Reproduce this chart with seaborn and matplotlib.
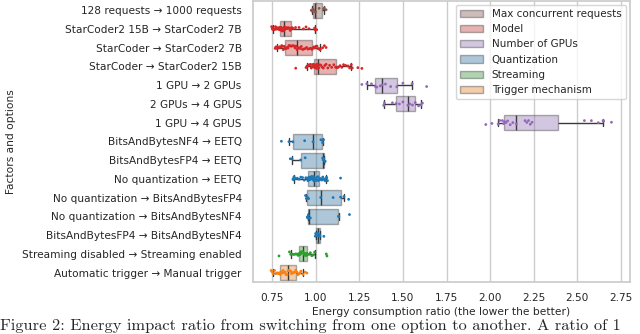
import matplotlib
matplotlib.use("Agg")
import matplotlib.pyplot as plt
import numpy as np
import pandas as pd
import seaborn as sns

# one row per comparison, top to bottom
comparisons = [
    "128 requests → 1000 requests",
    "StarCoder2 15B → StarCoder2 7B",
    "StarCoder → StarCoder2 7B",
    "StarCoder → StarCoder2 15B",
    "1 GPU → 2 GPUs",
    "2 GPUs → 4 GPUS",
    "1 GPU → 4 GPUS",
    "BitsAndBytesNF4 → EETQ",
    "BitsAndBytesFP4 → EETQ",
    "No quantization → EETQ",
    "No quantization → BitsAndBytesFP4",
    "No quantization → BitsAndBytesNF4",
    "BitsAndBytesFP4 → BitsAndBytesNF4",
    "Streaming disabled → Streaming enabled",
    "Automatic trigger → Manual trigger",
]
factors = [
    "Max concurrent requests", "Model", "Model", "Model",
    "Number of GPUs", "Number of GPUs", "Number of GPUs",
    "Quantization", "Quantization", "Quantization", "Quantization",
    "Quantization", "Quantization", "Streaming", "Trigger mechanism",
]

requests_128_1000 = [0.975, 0.98, 0.985, 0.99, 0.995, 1.0, 1.02, 1.045, 1.05, 1.06]
sc2_15b_7b = [0.748, 0.752, 0.754, 0.756, 0.762, 0.766, 0.770, 0.774, 0.778, 0.782,
              0.787, 0.791, 0.794, 0.796, 0.798, 0.800, 0.802, 0.804, 0.806, 0.808,
              0.810, 0.812, 0.815, 0.817, 0.819, 0.821, 0.823, 0.826, 0.829, 0.832,
              0.835, 0.838, 0.842, 0.846, 0.850, 0.854, 0.857, 0.861, 0.866, 0.872,
              0.885, 0.905, 0.930, 0.945, 0.962, 0.994, 0.997, 1.000, 1.006]
sc_sc2_7b = [0.768, 0.772, 0.777, 0.781, 0.788, 0.795, 0.800, 0.806, 0.810, 0.815,
             0.820, 0.824, 0.827, 0.832, 0.837, 0.842, 0.847, 0.852, 0.858, 0.864,
             0.870, 0.876, 0.882, 0.888, 0.893, 0.899, 0.905, 0.912, 0.918, 0.925,
             0.932, 0.940, 0.948, 0.956, 0.964, 0.972, 0.979, 0.984, 0.990, 0.996,
             1.002, 1.008, 1.014, 1.020, 1.024, 1.027, 1.040, 1.050, 1.060]
sc_sc2_15b = [0.886, 0.945, 0.950, 0.953, 0.960, 0.966, 0.971, 0.975, 0.979, 0.983,
              0.986, 0.988, 0.990, 0.992, 0.994, 0.996, 0.998, 1.000, 1.002, 1.004,
              1.006, 1.008, 1.010, 1.011, 1.013, 1.018, 1.024, 1.030, 1.037, 1.044,
              1.052, 1.060, 1.070, 1.080, 1.092, 1.104, 1.114, 1.122, 1.130, 1.140,
              1.150, 1.160, 1.172, 1.185, 1.195, 1.204, 1.210, 1.242, 1.265]
gpu_1_2 = [1.265, 1.293, 1.32, 1.343, 1.35, 1.37, 1.381, 1.40, 1.43, 1.465, 1.50, 1.553, 1.636]
gpu_2_4 = [1.390, 1.394, 1.44, 1.461, 1.48, 1.50, 1.528, 1.54, 1.555, 1.571, 1.59, 1.604, 1.612]
gpu_1_4 = [1.975, 2.01, 2.046, 2.055, 2.07, 2.078, 2.082, 2.09, 2.10, 2.115, 2.13, 2.15,
           2.20, 2.21, 2.22, 2.23, 2.24, 2.54, 2.58, 2.62, 2.647, 2.65, 2.695]
nf4_eetq = [0.804, 0.847, 0.87, 0.937, 0.985, 1.03, 1.038, 1.04, 1.045]
fp4_eetq = [0.855, 0.865, 0.914, 0.94, 1.040, 1.043, 1.046, 1.05, 1.055]
noq_eetq = [0.870, 0.873, 0.875, 0.876, 0.885, 0.895, 0.905, 0.915, 0.925, 0.935,
            0.944, 0.951, 0.956, 0.959, 0.962, 0.965, 0.968, 0.971, 0.974, 0.977,
            0.980, 0.983, 0.985, 0.987, 0.989, 0.991, 0.993, 0.995, 0.997, 0.999,
            1.001, 1.004, 1.007, 1.010, 1.013, 1.016, 1.019, 1.023, 1.027, 1.031,
            1.036, 1.041, 1.046, 1.052, 1.057, 1.061, 1.064, 1.068, 1.143]
noq_fp4 = [0.942, 0.947, 0.953, 0.960, 1.029, 1.10, 1.143, 1.162, 1.189]
noq_nf4 = [0.952, 0.955, 0.956, 0.958, 0.962, 0.97, 1.131, 1.133, 1.194]
fp4_nf4 = [0.998, 1.0, 1.004, 1.008, 1.012, 1.016, 1.023, 1.025, 1.047]
streaming = [0.790, 0.850, 0.857, 0.865, 0.875, 0.885, 0.893, 0.900, 0.905, 0.908,
             0.911, 0.914, 0.917, 0.920, 0.922, 0.925, 0.927, 0.930, 0.933, 0.936,
             0.939, 0.942, 0.945, 0.948, 0.950, 0.955, 0.962, 0.970, 0.978, 0.986,
             0.994, 1.061, 1.065]
trigger = [0.745, 0.750, 0.756, 0.765, 0.772, 0.780, 0.786, 0.792, 0.798, 0.803,
           0.808, 0.814, 0.820, 0.826, 0.831, 0.837, 0.842, 0.847, 0.852, 0.857,
           0.862, 0.867, 0.872, 0.879, 0.886, 0.892, 0.898, 0.904, 0.910, 0.916,
           0.927, 0.940, 0.950]

ratios = [requests_128_1000, sc2_15b_7b, sc_sc2_7b, sc_sc2_15b, gpu_1_2, gpu_2_4, gpu_1_4,
          nf4_eetq, fp4_eetq, noq_eetq, noq_fp4, noq_nf4, fp4_nf4, streaming, trigger]

factor_order = ["Max concurrent requests", "Model", "Number of GPUs",
                "Quantization", "Streaming", "Trigger mechanism"]
palette = {
    "Max concurrent requests": "#8c564b",
    "Model": "#d62728",
    "Number of GPUs": "#9467bd",
    "Quantization": "#1f77b4",
    "Streaming": "#2ca02c",
    "Trigger mechanism": "#ff7f0e",
}

rows = []
for comp, fac, vals in zip(comparisons, factors, ratios):
    for v in vals:
        rows.append({"comparison": comp, "factor": fac, "ratio": v})
df = pd.DataFrame(rows)

sns.set_theme(style="whitegrid")
np.random.seed(3)
fig, ax = plt.subplots(figsize=(6.4, 3.34), dpi=100)

sns.boxplot(data=df, x="ratio", y="comparison", hue="factor", order=comparisons,
            hue_order=factor_order, palette=palette, dodge=False, showfliers=False,
            whis=(5, 95), width=0.8, linewidth=1.0, linecolor="#3a3a3a",
            boxprops={"alpha": 0.4}, ax=ax)
sns.stripplot(data=df, x="ratio", y="comparison", hue="factor", order=comparisons,
              hue_order=factor_order, palette=palette, dodge=False, size=2,
              jitter=0.12, legend=False, ax=ax)

handles, labels = ax.get_legend_handles_labels()
for h in handles:
    h.set_alpha(0.4)
ax.legend(handles, labels, loc="upper right", fontsize=7.5, frameon=True,
          handlelength=2.2, borderaxespad=0.4)

ax.set_xlim(0.64, 2.80)
ax.set_xticks([0.75, 1.0, 1.25, 1.5, 1.75, 2.0, 2.25, 2.5, 2.75])
ax.set_xlabel("Energy consumption ratio (the lower the better)", fontsize=7.7, labelpad=3)
ax.set_ylabel("Factors and options", fontsize=7.7, labelpad=4)
ax.tick_params(axis="both", labelsize=7.6, pad=2)
ax.grid(axis="y", visible=False)

fig.subplots_adjust(left=0.395, right=0.984, top=0.998, bottom=0.156)
fig.text(0.0, 0.003, "Figure 2: Energy impact ratio from switching from one option to another. A ratio of 1",
         family="cmr10", fontsize=11.8, ha="left", va="bottom")

fig.savefig("out.png", dpi=100)
